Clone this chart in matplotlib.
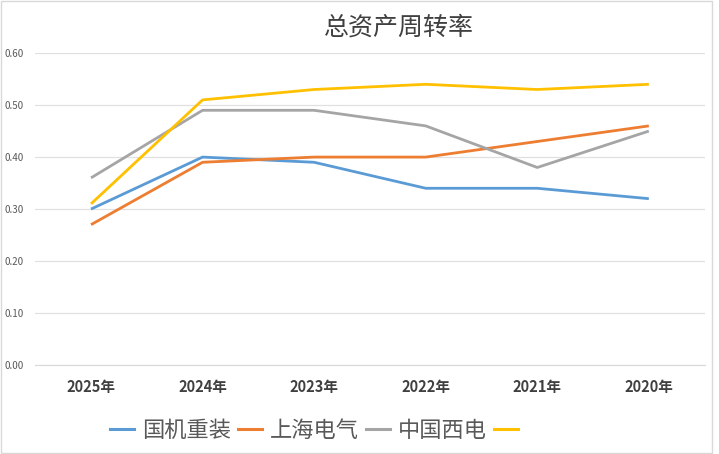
import matplotlib.pyplot as plt
from matplotlib.lines import Line2D
from matplotlib.patches import Rectangle

plt.rcParams['font.family'] = ['Noto Sans CJK SC', 'DejaVu Sans']

years = ['2025年', '2024年', '2023年', '2022年', '2021年', '2020年']
guoji = [0.30, 0.40, 0.39, 0.34, 0.34, 0.32]
shanghai = [0.27, 0.39, 0.40, 0.40, 0.43, 0.46]
xidian = [0.36, 0.49, 0.49, 0.46, 0.38, 0.45]
fourth = [0.31, 0.51, 0.53, 0.54, 0.53, 0.54]

names = ['国机重装', '上海电气', '中国西电', '']
colors = ['#5B9BD5', '#ED7D31', '#A5A5A5', '#FFC000']

fig = plt.figure(figsize=(7.19, 4.54), dpi=100)
ax = fig.add_axes([0.049, 0.196, 0.931, 0.687])

x = range(len(years))
for vals, c in zip([guoji, shanghai, xidian, fourth], colors):
    ax.plot(x, vals, color=c, lw=2.0, solid_capstyle='butt')

ax.set_xlim(-0.5, 5.5)
ax.set_ylim(0, 0.6)
ax.set_yticks([0, 0.1, 0.2, 0.3, 0.4, 0.5, 0.6])
ax.set_yticklabels(['%.2f' % v for v in ax.get_yticks()], fontsize=7, color='#595959')
ax.set_xticks(list(x))
ax.set_xticklabels(years, fontsize=10.5, fontweight='bold', color='#404040')
ax.tick_params(length=0)
ax.tick_params(axis='x', pad=10)
ax.tick_params(axis='y', pad=8)
ax.grid(axis='y', color='#E0E0E0', lw=0.9)
ax.set_axisbelow(True)
for s in ax.spines.values():
    s.set_visible(False)
ax.spines['bottom'].set_visible(True)
ax.spines['bottom'].set_color('#D9D9D9')

fig.text(0.555, 0.94, '总资产周转率', ha='center', va='center', fontsize=18, color='#404040')

handles = [Line2D([0], [0], color=c, lw=2.2) for c in colors]
fig.legend(handles, names, loc='center left', bbox_to_anchor=(0.153, 0.052), ncol=4,
           frameon=False, fontsize=16, handlelength=1.1, handletextpad=0.35,
           columnspacing=0.3, labelcolor='#595959', borderaxespad=0, borderpad=0)

fig.patches.append(Rectangle((0.002, 0.002), 0.988, 0.996, transform=fig.transFigure,
                             fill=False, ec='#D9D9D9', lw=1))

fig.savefig('out.png', dpi=100)
